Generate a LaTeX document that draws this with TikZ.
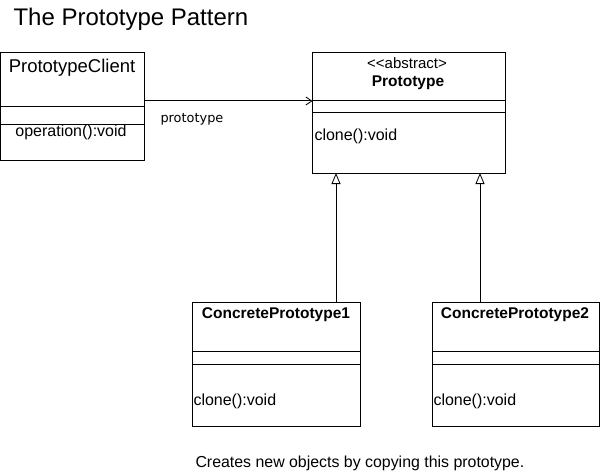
\documentclass[tikz,border=0pt]{standalone}
\usepackage{fontspec}
\setmainfont{Liberation Sans}
\newfontfamily\rolefont{DejaVu Sans}
\usetikzlibrary{arrows.meta}

\begin{document}
\begin{tikzpicture}[x=1pt,y=-1pt,line width=1pt,
        classbox/.style={draw,rectangle,inner sep=0pt,outer sep=0pt},
        txt/.style={inner sep=0pt,font=\fontsize{16}{18}\selectfont},
        boldtxt/.style={inner sep=0pt,font=\fontsize{15.5}{18}\selectfont\bfseries},
        assoc/.style={-{Straight Barb[length=6pt,width=8pt,line width=0.8pt]}},
        inherit/.style={-{Triangle[open,length=11pt,width=9pt,line width=0.8pt]}}]
        \useasboundingbox (0,0) rectangle (601,473);

        % draw the title
        \node[inner sep=0pt,anchor=base west,font=\fontsize{24}{28}\selectfont] (title) at (13,26) {The Prototype Pattern};

        % draw the class boxes
        \foreach \name/\cx/\cy/\w/\h in {
            client/72.25/106.75/143.5/107.5,
            proto/408.75/113/192.5/120,
            cp1/276/364/168/124,
            cp2/515.75/364/167.5/124}
                \node[classbox,minimum width=\w pt,minimum height=\h pt] (\name) at (\cx,\cy) {};

        % draw the compartment lines of each box
        \foreach \name/\da/\db in {client/54/72, proto/48/60, cp1/49/62, cp2/49/62} {
                \draw ([yshift=-\da pt]\name.north west) -- ([yshift=-\da pt]\name.north east);
                \draw ([yshift=-\db pt]\name.north west) -- ([yshift=-\db pt]\name.north east);
        }

        % draw the class names and operations
        \node[txt,anchor=base,font=\fontsize{18.5}{20}\selectfont] (clientname) at (72,73) {PrototypeClient};
        \node[txt,anchor=base] (clientop) at (71,137) {operation():void};
        \node[txt,anchor=base,font=\fontsize{15}{16}\selectfont] (protostereo) at (407,69) {<{}<abstract>};
        \node[boldtxt,anchor=base] (protoname) at (408,87) {Prototype};
        \node[txt,anchor=base west] (protoop) at (314,141) {clone():void};
        \node[boldtxt,anchor=base] (cp1name) at (276,318) {ConcretePrototype1};
        \node[txt,anchor=base west] (cp1op) at (193,405) {clone():void};
        \node[boldtxt,anchor=base] (cp2name) at (515,318) {ConcretePrototype2};
        \node[txt,anchor=base west] (cp2op) at (433,405) {clone():void};

        % draw the association from the client to the prototype
        \coordinate (assocend) at (312.5,101);
        \draw[assoc] (client.east |- assocend) -- (assocend);
        \node[inner sep=0pt,anchor=base west,font=\rolefont\fontsize{12.9}{15}\selectfont] (role) at (160,123) {prototype};

        % draw the generalisations
        \coordinate (top1) at (336,302);
        \coordinate (top2) at (480,302);
        \foreach \t in {top1,top2}
                \draw[inherit] (\t) -- (\t |- proto.south);

        % draw the note below
        \node[txt,anchor=base west,font=\fontsize{15.9}{18}\selectfont] (note) at (195,467) {Creates new objects by copying this prototype.};
\end{tikzpicture}
\end{document}
